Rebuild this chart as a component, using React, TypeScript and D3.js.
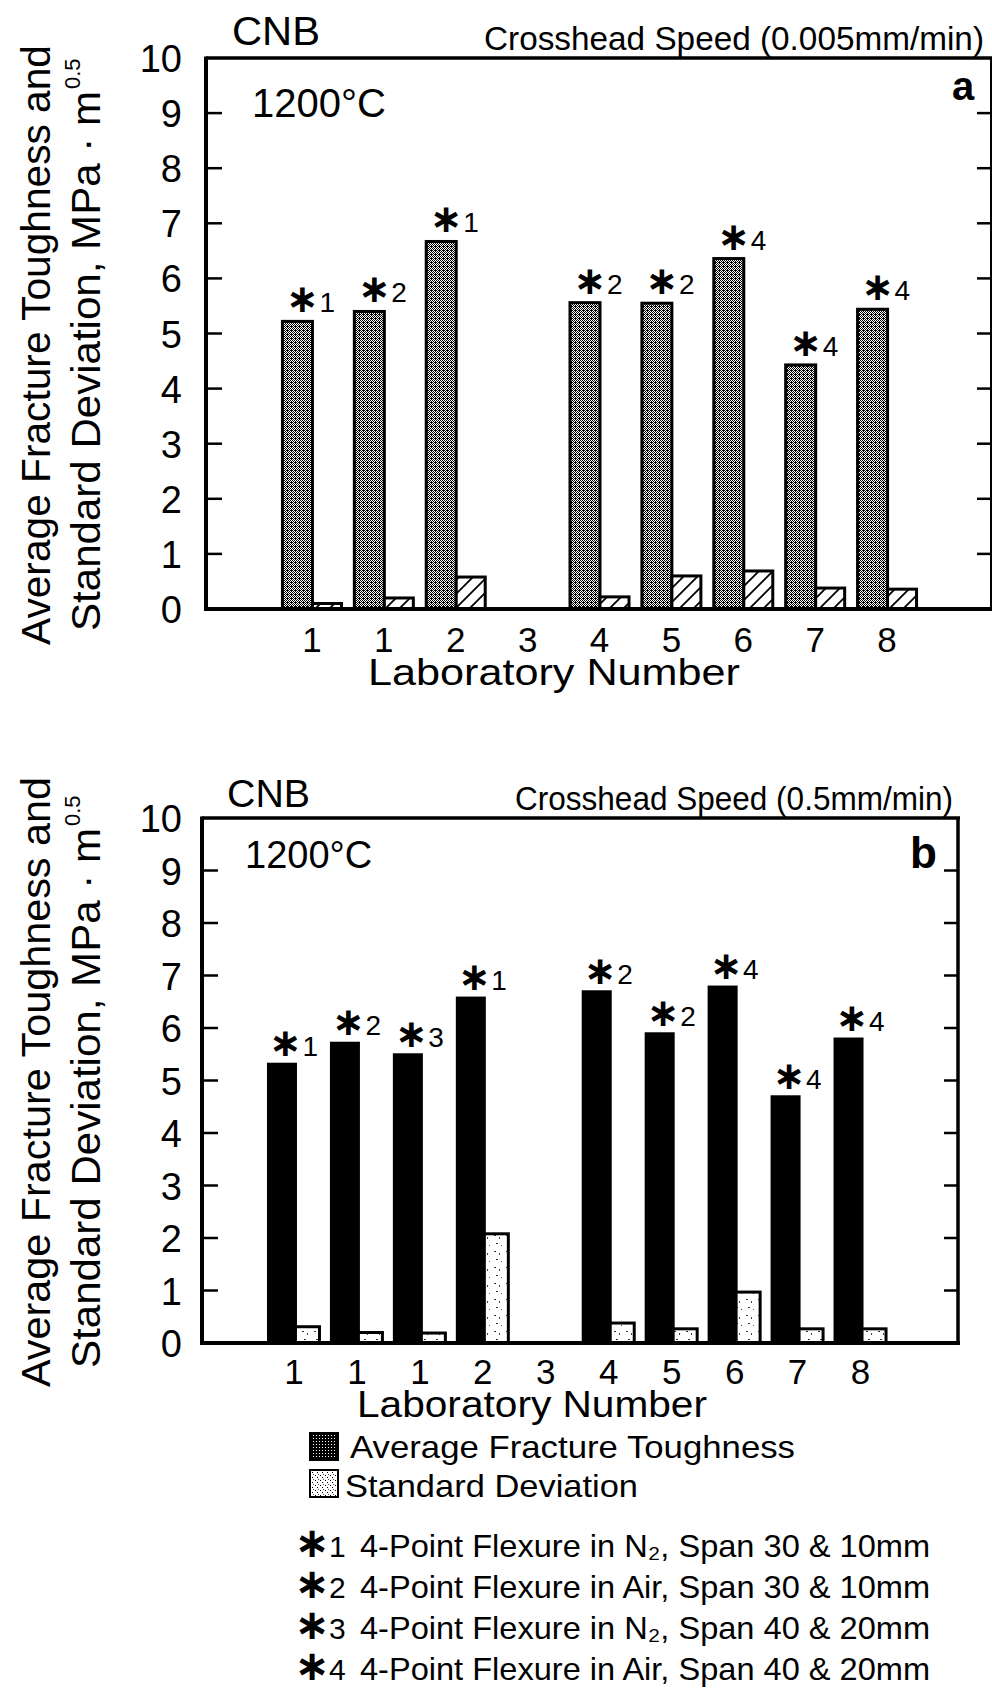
import React from 'react';
import * as d3 from 'd3';

// ---------------- data ----------------
const labelsA = ['1', '1', '2', '3', '4', '5', '6', '7', '8'];
const avgA: (number | null)[] = [5.22, 5.4, 6.67, null, 5.56, 5.55, 6.36, 4.43, 5.44];
const sdA: (number | null)[] = [0.1, 0.2, 0.58, null, 0.22, 0.6, 0.69, 0.38, 0.36];
const notesA = ['1', '2', '1', '', '2', '2', '4', '4', '4'];

const labelsB = ['1', '1', '1', '2', '3', '4', '5', '6', '7', '8'];
const avgB: (number | null)[] = [5.31, 5.71, 5.49, 6.57, null, 6.69, 5.89, 6.78, 4.69, 5.79];
const sdB: (number | null)[] = [0.31, 0.2, 0.19, 2.08, null, 0.38, 0.27, 0.97, 0.27, 0.27];
const notesB = ['1', '2', '3', '1', '', '2', '2', '4', '4', '4'];

const yTicks = [0, 1, 2, 3, 4, 5, 6, 7, 8, 9, 10];
const yTitle1 = 'Average Fracture Toughness and';
const yTitle2 = 'Standard Deviation, MPa · m';
const yTitleSup = '0.5';
const xTitle = 'Laboratory Number';
const legendSeries = ['Average Fracture Toughness', 'Standard Deviation'];
const legendNotes = [
  { k: '1', text: '4-Point Flexure in N₂, Span 30 & 10mm' },
  { k: '2', text: '4-Point Flexure in Air, Span 30 & 10mm' },
  { k: '3', text: '4-Point Flexure in N₂, Span 40 & 20mm' },
  { k: '4', text: '4-Point Flexure in Air, Span 40 & 20mm' },
];

const FONT = "'Liberation Sans', Arial, Helvetica, sans-serif";

type PanelCfg = {
  labels: string[];
  avg: (number | null)[];
  sd: (number | null)[];
  notes: string[];
  left: number; right: number; top: number; bottom: number;
  bandStart: number; bandEnd: number;
  avgW: number; sdW: number;
  avgFill: string; sdFill: string;
  noteGap: number;
  digitBase: number;
  xTitleX: number; xTitleY: number; xTitleLen: number;
  cnb: { x: number; y: number; size: number; len: number };
  speed: { text: string; x: number; y: number; size: number; len: number };
  temp: { x: number; y: number; size: number };
  letter: { t: string; x: number; y: number; size: number };
  rightThin: boolean;
  titleY: number; title1Len: number; title2Len: number;
};

// "*n" marker as one text element; asterisk centred near (x - 10), digit after a small gap
function Asterisk({ x, y, k, size = 28 }: { x: number; y: number; k: string; size?: number }) {
  const big = size * 1.4;
  const start = x - 10 - 0.419 * big;
  const dx = 17 - 0.419 * big;
  return (
    <text x={start} y={y} fontFamily={FONT} fontSize={size}>
      <tspan fontFamily="'DejaVu Sans', sans-serif" fontSize={big} fontWeight="bold">∗</tspan>
      <tspan dx={dx}>{k}</tspan>
    </text>
  );
}

function Panel({ c }: { c: PanelCfg }) {
  const y = d3.scaleLinear().domain([0, 10]).range([c.bottom, c.top]);
  const x = d3.scaleBand<number>().domain(d3.range(c.labels.length)).range([c.bandStart, c.bandEnd]);
  const pair = c.avgW + c.sdW;
  return (
    <g fontFamily={FONT}>
      {/* y-axis title */}
      <text transform={`translate(50,${c.titleY}) rotate(-90)`} textAnchor="middle" fontSize={40}
        textLength={c.title1Len} lengthAdjust="spacingAndGlyphs">{yTitle1}</text>
      <g transform={`translate(100,${c.titleY + (c.title2Len + 32) / 2}) rotate(-90)`}>
        <text x={0} y={0} fontSize={40} textLength={c.title2Len} lengthAdjust="spacingAndGlyphs">{yTitle2}</text>
        <text x={c.title2Len + 2} y={-20} fontSize={22}>{yTitleSup}</text>
      </g>

      {/* y tick labels */}
      {yTicks.map((t) => (
        <text key={t} x={182} y={y(t) + 14} fontSize={38} textAnchor="end">{t}</text>
      ))}

      {/* bars */}
      {c.labels.map((_, i) => {
        const cx = (x(i) as number) + x.bandwidth() / 2;
        const x0 = cx - pair / 2;
        const a = c.avg[i];
        const s = c.sd[i];
        return (
          <g key={i}>
            {a != null && (
              <rect x={x0} y={y(a)} width={c.avgW} height={y(0) - y(a)} fill={c.avgFill}
                stroke="#000" strokeWidth={3} />
            )}
            {s != null && (
              <rect x={x0 + c.avgW} y={y(s)} width={c.sdW} height={y(0) - y(s)} fill={c.sdFill}
                stroke="#000" strokeWidth={3} />
            )}
            {a != null && c.notes[i] && (
              <Asterisk x={x0 + c.avgW} y={y(a) - c.noteGap} k={c.notes[i]} />
            )}
            <text x={cx} y={c.digitBase} fontSize={35} textAnchor="middle">{c.labels[i]}</text>
          </g>
        );
      })}

      {/* frame */}
      <line x1={c.left} x2={c.right + 2} y1={c.top} y2={c.top} stroke="#000" strokeWidth={3.5} />
      <line x1={c.left} x2={c.left} y1={c.top - 1.5} y2={c.bottom + 2} stroke="#000" strokeWidth={4} />
      <line x1={c.left} x2={c.right + 2} y1={c.bottom} y2={c.bottom} stroke="#000" strokeWidth={4} />
      <line x1={c.right} x2={c.right} y1={c.top} y2={c.bottom} stroke="#000" strokeWidth={c.rightThin ? 2 : 3.5} />
      {yTicks.slice(1, -1).map((t) => (
        <g key={t}>
          <line x1={c.left} x2={c.left + 16} y1={y(t)} y2={y(t)} stroke="#000" strokeWidth={2.5} />
          <line x1={c.right - 14} x2={c.right} y1={y(t)} y2={y(t)} stroke="#000" strokeWidth={2.5} />
        </g>
      ))}

      {/* x title */}
      <text x={c.xTitleX} y={c.xTitleY} fontSize={36} textLength={c.xTitleLen} lengthAdjust="spacingAndGlyphs">{xTitle}</text>

      {/* header texts */}
      <text x={c.cnb.x} y={c.cnb.y} fontSize={c.cnb.size} textLength={c.cnb.len} lengthAdjust="spacingAndGlyphs">CNB</text>
      <text x={c.speed.x} y={c.speed.y} fontSize={c.speed.size} textLength={c.speed.len} lengthAdjust="spacingAndGlyphs">{c.speed.text}</text>
      <text x={c.temp.x} y={c.temp.y} fontSize={c.temp.size}>1200°C</text>
      <text x={c.letter.x} y={c.letter.y} fontSize={c.letter.size} fontWeight="bold">{c.letter.t}</text>
    </g>
  );
}

export default function App() {
  const panelA: PanelCfg = {
    labels: labelsA, avg: avgA, sd: sdA, notes: notesA,
    left: 206, right: 991, top: 58, bottom: 609,
    bandStart: 276, bandEnd: 923, avgW: 30, sdW: 29,
    avgFill: 'url(#grayA)', sdFill: 'url(#hatchA)',
    noteGap: 9, digitBase: 652,
    xTitleX: 368, xTitleY: 685, xTitleLen: 372,
    cnb: { x: 232, y: 45, size: 40, len: 88 },
    speed: { text: 'Crosshead Speed (0.005mm/min)', x: 484, y: 50, size: 34, len: 500 },
    temp: { x: 252, y: 117, size: 40 },
    letter: { t: 'a', x: 952, y: 100, size: 40 },
    rightThin: true,
    titleY: 345, title1Len: 600, title2Len: 540,
  };
  const panelB: PanelCfg = {
    labels: labelsB, avg: avgB, sd: sdB, notes: notesB,
    left: 202, right: 958, top: 818, bottom: 1343,
    bandStart: 262.5, bandEnd: 892, avgW: 27, sdW: 24,
    avgFill: '#000', sdFill: 'url(#speckB)',
    noteGap: 8, digitBase: 1384,
    xTitleX: 357, xTitleY: 1417, xTitleLen: 350,
    cnb: { x: 227, y: 807, size: 39, len: 83 },
    speed: { text: 'Crosshead Speed (0.5mm/min)', x: 515, y: 810, size: 33, len: 438 },
    temp: { x: 245, y: 868, size: 38 },
    letter: { t: 'b', x: 910, y: 868, size: 44 },
    rightThin: false,
    titleY: 1082, title1Len: 610, title2Len: 540,
  };

  const grayCells = ['X.X.', '.X.X', 'X.XX', '.X.X'];
  const darkCells = ['XXX', 'X.X', 'XXX'];

  return (
    <svg width={992} height={1692} style={{ position: 'absolute', left: 0, top: 0, background: '#fff' }}
      xmlns="http://www.w3.org/2000/svg">
      <defs>
        <pattern id="grayA" width={4} height={4} patternUnits="userSpaceOnUse">
          <rect width={4} height={4} fill="#fff" />
          {grayCells.flatMap((row, r) => row.split('').map((ch, col) => ch === 'X'
            ? <rect key={`${r}-${col}`} x={col} y={r} width={1} height={1} fill="#000" /> : null))}
        </pattern>
        <pattern id="hatchA" width={14} height={14} patternUnits="userSpaceOnUse">
          <rect width={14} height={14} fill="#fff" />
          <path d="M-3,3 L3,-3 M0,14 L14,0 M11,17 L17,11" stroke="#000" strokeWidth={1.8} />
        </pattern>
        <pattern id="speckB" width={12} height={16} patternUnits="userSpaceOnUse">
          <rect width={12} height={16} fill="#fff" />
          <rect x={2} y={3} width={2} height={1} fill="#333" />
          <rect x={7} y={5} width={1} height={2} fill="#444" />
          <rect x={4} y={11} width={2} height={1} fill="#333" />
          <rect x={9} y={13} width={1} height={1} fill="#555" />
        </pattern>
        <pattern id="darkLeg" width={3} height={3} patternUnits="userSpaceOnUse">
          <rect width={3} height={3} fill="#fff" />
          {darkCells.flatMap((row, r) => row.split('').map((ch, col) => ch === 'X'
            ? <rect key={`${r}-${col}`} x={col} y={r} width={1} height={1} fill="#000" /> : null))}
        </pattern>
        <pattern id="lightLeg" width={5} height={5} patternUnits="userSpaceOnUse">
          <rect width={5} height={5} fill="#fff" />
          <rect x={0} y={0} width={1} height={1} fill="#000" />
          <rect x={2} y={2} width={1} height={1} fill="#000" />
          <rect x={3} y={4} width={1} height={1} fill="#555" />
        </pattern>
      </defs>
      <rect width={992} height={1692} fill="#fff" />
      <Panel c={panelA} />
      <Panel c={panelB} />

      {/* legend */}
      <g fontFamily={FONT}>
        <rect x={310} y={1433} width={28} height={27} fill="url(#darkLeg)" stroke="#000" strokeWidth={2} />
        <text x={350} y={1458} fontSize={32} textLength={445} lengthAdjust="spacingAndGlyphs">{legendSeries[0]}</text>
        <rect x={310} y={1470} width={28} height={27} fill="url(#lightLeg)" stroke="#000" strokeWidth={2} />
        <text x={345} y={1497} fontSize={32} textLength={293} lengthAdjust="spacingAndGlyphs">{legendSeries[1]}</text>
        {legendNotes.map((n, i) => {
          const by = 1557 + i * 41;
          return (
            <g key={n.k}>
              <Asterisk x={322} y={by} k={n.k} size={30} />
              <text x={360} y={by} fontSize={32} textLength={570} lengthAdjust="spacingAndGlyphs">{n.text}</text>
            </g>
          );
        })}
      </g>
    </svg>
  );
}
